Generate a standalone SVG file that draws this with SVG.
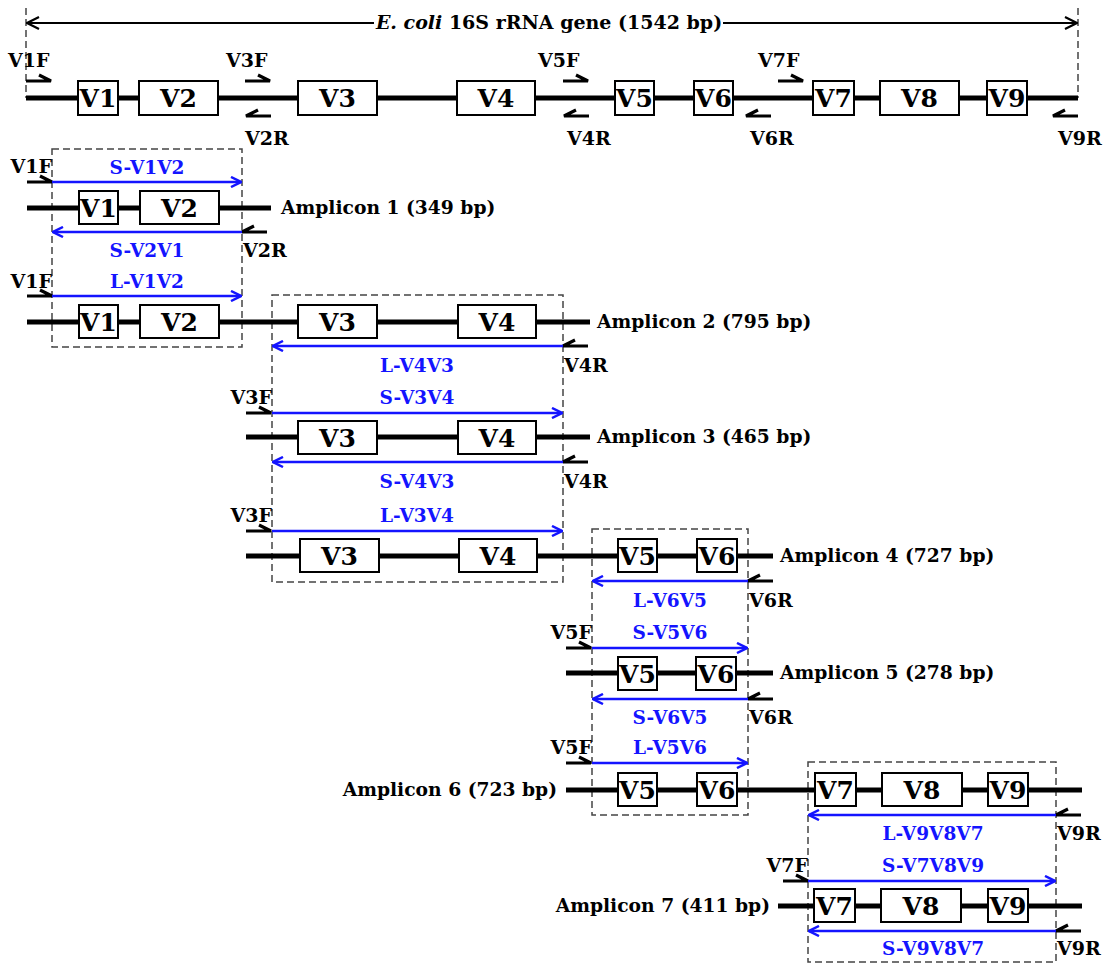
<svg xmlns="http://www.w3.org/2000/svg" xmlns:xlink="http://www.w3.org/1999/xlink" width="1107" height="963" viewBox="0 0 1107 963">
<style>
text{font-family:"DejaVu Serif","Liberation Serif",serif;font-weight:bold}
.gene{stroke:#000;stroke-width:5;fill:none}
.box{fill:#fff;stroke:#000;stroke-width:2}
.vt{font-size:25px;text-anchor:middle}
.pl{font-size:19px}
.pe{font-size:19px;text-anchor:end}
.al{font-size:18.7px}
.ae{font-size:18.7px;text-anchor:end}
.bl{font-size:18.5px;fill:#1414ff;text-anchor:middle}
.ba{stroke:#1414ff;stroke-width:2.5;fill:none;marker-end:url(#bh)}
.db{fill:none;stroke:#444;stroke-width:1.5;stroke-dasharray:7 4}
.dl{stroke:#444;stroke-width:1.5;stroke-dasharray:7 4}
.pr{stroke:#000;stroke-width:3.2;fill:none;stroke-linejoin:miter}
</style>
<defs>
<marker id="bh" viewBox="0 0 12 12" refX="11" refY="6" markerWidth="12" markerHeight="12" markerUnits="userSpaceOnUse" orient="auto"><path d="M1,1 L11,6 L1,11" fill="none" stroke="#1414ff" stroke-width="2.5"/></marker>
<marker id="kh" viewBox="0 0 14 14" refX="13" refY="7" markerWidth="14" markerHeight="14" markerUnits="userSpaceOnUse" orient="auto"><path d="M1,1 L13,7 L1,13" fill="none" stroke="#000" stroke-width="2.2"/></marker>
<marker id="khs" viewBox="0 0 14 14" refX="1" refY="7" markerWidth="14" markerHeight="14" markerUnits="userSpaceOnUse" orient="auto"><path d="M13,1 L1,7 L13,13" fill="none" stroke="#000" stroke-width="2.2"/></marker>
<path id="fw" class="pr" d="M0,0 H25 L13,-6"/>
<path id="rv" class="pr" d="M25,0 H0 L12,-6"/>
</defs>

<g id="title">
<line class="dl" x1="26" y1="8" x2="26" y2="98"/>
<line class="dl" x1="1078" y1="8" x2="1078" y2="98"/>
<line x1="27" y1="23" x2="374" y2="23" stroke="#000" stroke-width="2.2" marker-start="url(#khs)"/>
<line x1="723" y1="23" x2="1077" y2="23" stroke="#000" stroke-width="2.2" marker-end="url(#kh)"/>
<text x="549" y="29" font-size="19" text-anchor="middle"><tspan font-style="italic">E. coli</tspan> 16S rRNA gene (1542 bp)</text>
</g>

<g id="gene">
<line class="gene" x1="26" y1="98" x2="1078" y2="98"/>
<rect class="box" x="78" y="81" width="40" height="34"/><text class="vt" x="98" y="107">V1</text>
<rect class="box" x="139" y="81" width="79" height="34"/><text class="vt" x="178.5" y="107">V2</text>
<rect class="box" x="298" y="81" width="79" height="34"/><text class="vt" x="337.5" y="107">V3</text>
<rect class="box" x="457" y="81" width="78" height="34"/><text class="vt" x="496" y="107">V4</text>
<rect class="box" x="615" y="81" width="39" height="34"/><text class="vt" x="634.5" y="107">V5</text>
<rect class="box" x="694" y="81" width="39" height="34"/><text class="vt" x="713.5" y="107">V6</text>
<rect class="box" x="813" y="81" width="41" height="34"/><text class="vt" x="833.5" y="107">V7</text>
<rect class="box" x="880" y="81" width="79" height="34"/><text class="vt" x="919.5" y="107">V8</text>
<rect class="box" x="987" y="81" width="40" height="34"/><text class="vt" x="1007" y="107">V9</text>
<use href="#fw" x="26" y="81"/><text class="pl" x="8" y="67">V1F</text>
<use href="#fw" x="245" y="81"/><text class="pl" x="226" y="67">V3F</text>
<use href="#fw" x="563" y="81"/><text class="pl" x="538" y="67">V5F</text>
<use href="#fw" x="778" y="81"/><text class="pl" x="758" y="67">V7F</text>
<use href="#rv" x="246" y="116"/><text class="pl" x="245" y="145">V2R</text>
<use href="#rv" x="564" y="116"/><text class="pl" x="567" y="145">V4R</text>
<use href="#rv" x="746" y="116"/><text class="pl" x="750" y="145">V6R</text>
<use href="#rv" x="1053" y="116"/><text class="pl" x="1058" y="145">V9R</text>
</g>

<g id="boxes">
<rect class="db" x="52" y="149" width="190" height="198"/>
<rect class="db" x="272" y="295" width="291" height="287"/>
<rect class="db" x="592" y="529" width="156" height="286"/>
<rect class="db" x="808" y="762" width="248" height="200"/>
</g>

<g id="amplicon1">
<line class="gene" x1="27" y1="208" x2="271" y2="208"/>
<rect class="box" x="79" y="191" width="39" height="33"/><text class="vt" x="98.5" y="217">V1</text>
<rect class="box" x="140" y="191" width="79" height="33"/><text class="vt" x="179.5" y="217">V2</text>
<text class="al" x="281" y="214">Amplicon 1 (349 bp)</text>
<use href="#fw" x="27" y="182"/><text class="pe" x="52" y="173">V1F</text>
<use href="#rv" x="242" y="232"/><text class="pl" x="243" y="257">V2R</text>
</g>

<g id="amplicon2">
<line class="gene" x1="27" y1="322" x2="590" y2="322"/>
<rect class="box" x="79" y="305" width="39" height="33"/><text class="vt" x="98.5" y="331">V1</text>
<rect class="box" x="140" y="305" width="79" height="33"/><text class="vt" x="179.5" y="331">V2</text>
<rect class="box" x="298" y="305" width="79" height="33"/><text class="vt" x="337.5" y="331">V3</text>
<rect class="box" x="458" y="305" width="78" height="33"/><text class="vt" x="497" y="331">V4</text>
<text class="al" x="597" y="328">Amplicon 2 (795 bp)</text>
<use href="#fw" x="27" y="296"/><text class="pe" x="52" y="288">V1F</text>
<use href="#rv" x="563" y="346"/><text class="pl" x="564" y="372">V4R</text>
</g>

<g id="amplicon3">
<line class="gene" x1="246" y1="437" x2="590" y2="437"/>
<rect class="box" x="298" y="421" width="79" height="33"/><text class="vt" x="337.5" y="447">V3</text>
<rect class="box" x="458" y="421" width="78" height="33"/><text class="vt" x="497" y="447">V4</text>
<text class="al" x="597" y="443">Amplicon 3 (465 bp)</text>
<use href="#fw" x="246" y="413"/><text class="pe" x="272" y="404">V3F</text>
<use href="#rv" x="563" y="462"/><text class="pl" x="564" y="488">V4R</text>
</g>

<g id="amplicon4">
<line class="gene" x1="246" y1="556" x2="773" y2="556"/>
<rect class="box" x="300" y="539" width="79" height="33"/><text class="vt" x="339.5" y="565">V3</text>
<rect class="box" x="459" y="539" width="78" height="33"/><text class="vt" x="498" y="565">V4</text>
<rect class="box" x="618" y="539" width="39" height="33"/><text class="vt" x="637.5" y="565">V5</text>
<rect class="box" x="697" y="539" width="40" height="33"/><text class="vt" x="717" y="565">V6</text>
<text class="al" x="780" y="562">Amplicon 4 (727 bp)</text>
<use href="#fw" x="246" y="531"/><text class="pe" x="272" y="522">V3F</text>
<use href="#rv" x="748" y="581"/><text class="pl" x="749" y="607">V6R</text>
</g>

<g id="amplicon5">
<line class="gene" x1="566" y1="673" x2="773" y2="673"/>
<rect class="box" x="618" y="657" width="39" height="33"/><text class="vt" x="637.5" y="683">V5</text>
<rect class="box" x="696" y="657" width="40" height="33"/><text class="vt" x="716" y="683">V6</text>
<text class="al" x="780" y="679">Amplicon 5 (278 bp)</text>
<use href="#fw" x="566" y="648"/><text class="pe" x="592" y="639">V5F</text>
<use href="#rv" x="748" y="699"/><text class="pl" x="749" y="724">V6R</text>
</g>

<g id="amplicon6">
<line class="gene" x1="566" y1="790" x2="1082" y2="790"/>
<rect class="box" x="618" y="773" width="39" height="33"/><text class="vt" x="637.5" y="799">V5</text>
<rect class="box" x="697" y="773" width="40" height="33"/><text class="vt" x="717" y="799">V6</text>
<rect class="box" x="815" y="773" width="41" height="33"/><text class="vt" x="835.5" y="799">V7</text>
<rect class="box" x="882" y="773" width="80" height="33"/><text class="vt" x="922" y="799">V8</text>
<rect class="box" x="988" y="773" width="40" height="33"/><text class="vt" x="1008" y="799">V9</text>
<text class="ae" x="557" y="796">Amplicon 6 (723 bp)</text>
<use href="#fw" x="566" y="763"/><text class="pe" x="592" y="754">V5F</text>
<use href="#rv" x="1056" y="815"/><text class="pl" x="1057" y="840">V9R</text>
</g>

<g id="amplicon7">
<line class="gene" x1="778" y1="906" x2="1082" y2="906"/>
<rect class="box" x="814" y="889" width="41" height="33"/><text class="vt" x="834.5" y="915">V7</text>
<rect class="box" x="881" y="889" width="80" height="33"/><text class="vt" x="921" y="915">V8</text>
<rect class="box" x="988" y="889" width="40" height="33"/><text class="vt" x="1008" y="915">V9</text>
<text class="ae" x="770" y="912">Amplicon 7 (411 bp)</text>
<use href="#fw" x="783" y="881"/><text class="pe" x="808" y="872">V7F</text>
<use href="#rv" x="1056" y="931"/><text class="pl" x="1057" y="955">V9R</text>
</g>

<g id="connectors">
<line class="ba" x1="52" y1="182" x2="241" y2="182"/>
<line class="ba" x1="242" y1="232" x2="53" y2="232"/>
<line class="ba" x1="52" y1="296" x2="241" y2="296"/>
<line class="ba" x1="563" y1="346" x2="273" y2="346"/>
<line class="ba" x1="272" y1="413" x2="562" y2="413"/>
<line class="ba" x1="563" y1="462" x2="273" y2="462"/>
<line class="ba" x1="272" y1="531" x2="562" y2="531"/>
<line class="ba" x1="748" y1="581" x2="593" y2="581"/>
<line class="ba" x1="592" y1="648" x2="747" y2="648"/>
<line class="ba" x1="748" y1="699" x2="593" y2="699"/>
<line class="ba" x1="592" y1="763" x2="747" y2="763"/>
<line class="ba" x1="1056" y1="815" x2="809" y2="815"/>
<line class="ba" x1="808" y1="881" x2="1055" y2="881"/>
<line class="ba" x1="1056" y1="931" x2="809" y2="931"/>
</g>

<g id="labels">
<text class="bl" x="147" y="174">S-V1V2</text>
<text class="bl" x="147" y="257">S-V2V1</text>
<text class="bl" x="147" y="288">L-V1V2</text>
<text class="bl" x="417" y="372">L-V4V3</text>
<text class="bl" x="417" y="404">S-V3V4</text>
<text class="bl" x="417" y="488">S-V4V3</text>
<text class="bl" x="417" y="522">L-V3V4</text>
<text class="bl" x="670" y="607">L-V6V5</text>
<text class="bl" x="670" y="639">S-V5V6</text>
<text class="bl" x="670" y="724">S-V6V5</text>
<text class="bl" x="670" y="754">L-V5V6</text>
<text class="bl" x="933" y="840">L-V9V8V7</text>
<text class="bl" x="933" y="872">S-V7V8V9</text>
<text class="bl" x="933" y="955">S-V9V8V7</text>
</g>
</svg>
